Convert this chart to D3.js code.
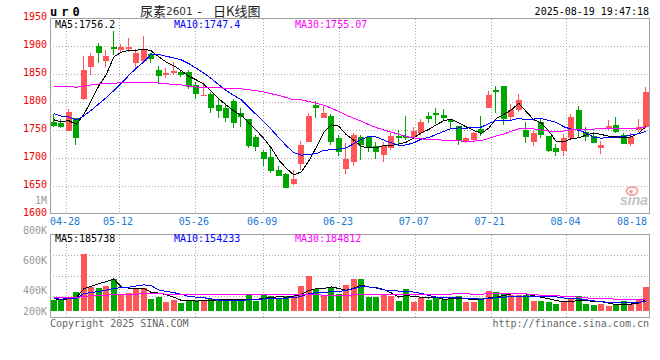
<!DOCTYPE html>
<html><head><meta charset="utf-8">
<script src="https://cdn.jsdelivr.net/npm/d3@7"></script>
<style>html,body{margin:0;padding:0;background:#fff}svg{display:block}</style>
</head><body>
<svg id="chart" width="660" height="360"></svg>
<script>
// ---------------- data ----------------
const dates = ["04-24","04-25","04-28","04-29","04-30","05-06","05-07","05-08","05-09","05-12",
"05-13","05-14","05-15","05-16","05-19","05-20","05-21","05-22","05-23","05-26",
"05-27","05-28","05-29","05-30","06-03","06-04","06-05","06-06","06-09","06-10",
"06-11","06-12","06-13","06-16","06-17","06-18","06-19","06-20","06-23","06-24",
"06-25","06-26","06-27","06-30","07-01","07-02","07-03","07-04","07-07","07-08",
"07-09","07-10","07-11","07-14","07-15","07-16","07-17","07-18","07-21","07-22",
"07-23","07-24","07-25","07-28","07-29","07-30","07-31","08-01","08-04","08-05",
"08-06","08-07","08-08","08-11","08-12","08-13","08-14","08-15","08-18","08-19"];
const open = [1765,1762,1749,1771,1805,1862,1900,1874,1899,1892,
1894,1870,1874,1886,1858,1849,1852,1854,1853,1830,
1812,1814,1795,1789,1801,1780,1770,1738,1711,1701,
1679,1671,1654,1689,1729,1795,1772,1775,1735,1680,
1692,1738,1737,1721,1705,1717,1740,1740,1737,1744,
1775,1781,1777,1767,1757,1731,1732,1751,1790,1821,
1829,1774,1786,1750,1729,1765,1739,1718,1713,1735,
1786,1747,1739,1718,1753,1759,1741,1725,1750,1756];
const high = [1779,1769,1787,1772,1883,1888,1906,1893,1927,1904,
1914,1894,1917,1888,1864,1860,1871,1858,1857,1836,
1836,1817,1805,1798,1805,1789,1770,1741,1714,1717,
1685,1674,1679,1731,1781,1801,1793,1778,1741,1726,
1744,1741,1739,1729,1729,1745,1750,1775,1756,1769,
1783,1790,1787,1769,1757,1738,1747,1775,1820,1829,
1829,1796,1814,1765,1750,1771,1739,1725,1743,1779,
1793,1755,1747,1730,1767,1774,1745,1744,1769,1827];
const low = [1755,1754,1749,1724,1804,1849,1869,1863,1884,1887,
1890,1860,1872,1870,1834,1842,1848,1845,1824,1805,
1811,1781,1772,1765,1754,1756,1718,1713,1685,1673,
1667,1646,1652,1679,1729,1772,1772,1723,1703,1671,
1685,1696,1711,1699,1693,1714,1721,1733,1734,1741,
1763,1761,1766,1751,1724,1726,1731,1739,1790,1781,
1759,1768,1783,1727,1721,1735,1710,1704,1704,1733,
1735,1731,1727,1707,1750,1744,1725,1721,1747,1753];
const close = [1757,1756,1782,1735,1857,1882,1887,1882,1894,1899,
1899,1888,1893,1877,1847,1851,1856,1849,1827,1815,
1813,1790,1784,1771,1762,1774,1721,1720,1698,1677,
1667,1646,1662,1723,1775,1789,1780,1729,1711,1699,
1741,1723,1717,1711,1721,1739,1736,1735,1749,1765,
1770,1777,1772,1764,1730,1735,1745,1745,1812,1817,
1769,1786,1804,1738,1745,1741,1713,1710,1735,1773,
1750,1737,1727,1723,1757,1747,1725,1737,1756,1818];
const volume = [333000,331000,351000,385000,638000,422000,411000,427000,471000,375000,
378000,415000,416000,338000,351000,320000,335000,311000,331000,333000,
334000,340000,338000,335000,327000,327000,371000,327000,371000,360000,
345000,360000,362000,425000,493000,405000,362000,418000,373000,433000,
471000,471000,351000,351000,371000,362000,327000,405000,320000,345000,
335000,355000,333000,340000,362000,320000,320000,345000,391000,385000,
378000,367000,367000,367000,327000,327000,320000,309000,318000,345000,
358000,309000,298000,305000,295000,300000,327000,305000,331000,418000];
// closes / volumes of the 29 sessions before the first visible one (for the moving averages)
const closeHistory = [1765,1772,1785,1800,1812,1838,1860,1872,1876,1880,1882,1878,
1890,1895,1888,1884,1880,1878,1877,1830,1805,1795,1790,1782,1782,1775,1770,1768,1771];
const volumeHistory = [352000,348000,360000,355000,346000,358000,362000,350000,344000,357000,
365000,349000,353000,347000,360000,351000,356000,343000,354000,350000,
338000,342000,336000,345000,340000,344000,338000,342000,346000];
const maPeriods = [5,10,30];
const priceTicks = [1600,1650,1700,1750,1800,1850,1900,1950];
const volumeTicks = [200000,400000,600000,800000,1000000];
const volumeTickLabels = ["200K","400K","600K","800K","1M"];
const dateTicks = ["04-28","05-12","05-26","06-09","06-23","07-07","07-21","08-04","08-18"];
const priceMAText = ["MA5:1756.2","MA10:1747.4","MA30:1755.07"];
const volumeMAText = ["MA5:185738","MA10:154233","MA30:184812"];
const symbol = "ur0";
const titleParts = ["尿素","2601","-","日K线图"];
const timestamp = "2025-08-19 19:47:18";
const footerLeft = "Copyright 2025 SINA.COM";
const footerRight = "http://finance.sina.com.cn";

// ---------------- layout / style ----------------
const L = 50, R = 650;
const priceTop = 18, priceBottom = 214;
const volTop = 234, volBottom = 317, volBase = 311;
const UP = "#ff5757", DOWN = "#00a600";
const maColors = ["#000000","#0000ff","#ff00ff"];
const mono = "'DejaVu Sans Mono', monospace";
const gridColor = "#aaaaaa", borderColor = "#a0a0a0";

const svg = d3.select("#chart");
const n = dates.length;

const x = d3.scaleBand().domain(dates).range([L, R]).paddingInner(0.2).paddingOuter(0.1);
const xGrid = d3.scaleLinear().domain([0, n - 1]).range([50.8, 649.9]);
const yP = d3.scaleLinear().domain([1600, 1950]).range([priceBottom, priceTop]);
const yV = d3.scaleLinear().domain([0, 1000000]).range([350, 200]);

const cx = d => Math.round(x(d)) + 2.5;
const isUp = i => close[i] >= open[i];

function movingAvg(hist, vals, p) {
  const all = hist.concat(vals);
  return vals.map((_, i) => {
    const end = hist.length + i;
    return d3.mean(all.slice(end - p + 1, end + 1));
  });
}

// ---------------- grids ----------------
const g = svg.append("g");
g.selectAll(".hp").data(priceTicks.filter(t => t > 1600 && t < 1950)).enter().append("line")
  .attr("x1", L).attr("x2", R)
  .attr("y1", d => Math.round(yP(d)) + 0.5).attr("y2", d => Math.round(yP(d)) + 0.5)
  .attr("stroke", gridColor).attr("stroke-dasharray", "1,2");
g.selectAll(".hv").data([1, 2, 3]).enter().append("line")
  .attr("x1", L).attr("x2", R)
  .attr("y1", d => Math.round(volTop + (volBottom - volTop) * d / 4) + 0.5)
  .attr("y2", d => Math.round(volTop + (volBottom - volTop) * d / 4) + 0.5)
  .attr("stroke", gridColor).attr("stroke-dasharray", "1,2");
const gridDates = dateTicks.filter(d => xGrid(dates.indexOf(d)) < R - 10);
[[priceTop + 1, priceBottom - 1], [volTop + 1, volBottom]].forEach(([a, b]) => {
  g.selectAll(null).data(gridDates).enter().append("line")
    .attr("x1", d => Math.round(xGrid(dates.indexOf(d))) + 0.5)
    .attr("x2", d => Math.round(xGrid(dates.indexOf(d))) + 0.5)
    .attr("y1", a).attr("y2", b)
    .attr("stroke", gridColor).attr("stroke-dasharray", "1,2");
});

// ---------------- candles ----------------
const cg = svg.append("g");
dates.forEach((d, i) => {
  const col = isUp(i) ? UP : DOWN;
  cg.append("line")
    .attr("x1", cx(d)).attr("x2", cx(d))
    .attr("y1", Math.round(yP(high[i]))).attr("y2", Math.round(yP(low[i])))
    .attr("stroke", col).attr("stroke-width", 1);
  const top = Math.round(yP(Math.max(open[i], close[i])));
  const bot = Math.round(yP(Math.min(open[i], close[i])));
  cg.append("rect")
    .attr("x", Math.round(x(d))).attr("width", Math.round(x.bandwidth()))
    .attr("y", top).attr("height", Math.max(1, bot - top))
    .attr("fill", col);
});

// price MAs
svg.append("clipPath").attr("id", "cp").append("rect")
  .attr("x", L).attr("y", priceTop).attr("width", R - L).attr("height", priceBottom - priceTop);
maPeriods.forEach((p, j) => {
  const vals = movingAvg(closeHistory, close, p);
  svg.append("path").datum(vals)
    .attr("clip-path", "url(#cp)")
    .attr("fill", "none").attr("stroke", maColors[j]).attr("stroke-width", 1)
    .attr("shape-rendering", "crispEdges")
    .attr("d", d3.line().x((v, i) => x(dates[i]) + x.bandwidth() / 2).y(v => yP(v)));
});

// ---------------- volume ----------------
const vg = svg.append("g");
vg.selectAll("rect").data(dates).enter().append("rect")
  .attr("x", d => Math.round(x(d))).attr("width", Math.round(x.bandwidth()))
  .attr("y", (d, i) => Math.round(yV(volume[i])))
  .attr("height", (d, i) => volBase - Math.round(yV(volume[i])))
  .attr("fill", (d, i) => isUp(i) ? UP : DOWN);
maPeriods.forEach((p, j) => {
  const vals = movingAvg(volumeHistory, volume, p);
  svg.append("path").datum(vals)
    .attr("fill", "none").attr("stroke", maColors[j]).attr("stroke-width", 1)
    .attr("shape-rendering", "crispEdges")
    .attr("d", d3.line().x((v, i) => x(dates[i]) + x.bandwidth() / 2).y(v => yV(v)));
});

// ---------------- borders ----------------
svg.append("rect").attr("x", L + 0.5).attr("y", priceTop + 0.5)
  .attr("width", R - L - 1).attr("height", priceBottom - priceTop - 1)
  .attr("fill", "none").attr("stroke", borderColor);
svg.append("rect").attr("x", L + 0.5).attr("y", volTop + 0.5)
  .attr("width", R - L - 1).attr("height", volBottom - volTop)
  .attr("fill", "none").attr("stroke", borderColor);

// ---------------- texts ----------------
const txt = (s, xx, yy, opts = {}) => svg.append("text")
  .attr("x", xx).attr("y", yy).text(s)
  .attr("font-family", opts.font || mono).attr("font-size", opts.size || 10)
  .attr("fill", opts.fill || "#000").attr("text-anchor", opts.anchor || "start")
  .attr("dominant-baseline", "central")
  .attr("font-weight", opts.weight || "normal")
  .attr("letter-spacing", opts.ls || 0);

priceTicks.forEach(t => txt(String(t), 47, yP(t) - 1.5, { anchor: "end", fill: "#ee0000" }));
volumeTicks.forEach((t, j) => txt(volumeTickLabels[j], 47, Math.min(yV(t), volBase), { anchor: "end", fill: "#999999" }));
dateTicks.forEach(d => {
  let c = xGrid(dates.indexOf(d)) - 1;
  c = Math.min(c, 647 - 15);
  txt(d, c, 221, { anchor: "middle", fill: "#1a7ad4" });
});

// header
const cjk = "'Noto Sans CJK SC', sans-serif";
txt(symbol, 50, 12, { size: 12, weight: "bold", ls: 4 });
txt(titleParts[0], 140, 10.5, { font: cjk, size: 13, fill: "#222" });
txt(titleParts[1], 166, 11, { font: "'DejaVu Sans', sans-serif", size: 10.5, fill: "#333" });
txt(titleParts[2], 199.5, 10.5, { font: cjk, size: 13, fill: "#222", anchor: "middle" });
txt(titleParts[3], 213, 10.5, { font: cjk, size: 13, fill: "#222" });
txt(timestamp, 649, 11.5, { anchor: "end" });
const maX = [55, 174, 295];
priceMAText.forEach((s, j) => txt(s, maX[j], 24, { fill: maColors[j] }));
volumeMAText.forEach((s, j) => txt(s, maX[j], 238.5, { fill: maColors[j] }));

// footer
txt(footerLeft, 50, 323.5, { fill: "#666" });
txt(footerRight, 649, 323.5, { fill: "#666", anchor: "end" });

// sina watermark
svg.append("ellipse").attr("cx", 632).attr("cy", 191).attr("rx", 5.5).attr("ry", 4)
  .attr("fill", "none").attr("stroke", "#f2a6a6").attr("stroke-width", 2);
svg.append("circle").attr("cx", 631).attr("cy", 191.5).attr("r", 1.8).attr("fill", "#e99");
svg.append("text").attr("x", 620).attr("y", 205).text("sina")
  .attr("font-family", "'Liberation Sans', sans-serif").attr("font-size", 14)
  .attr("font-style", "italic").attr("font-weight", "bold").attr("fill", "#c4c4c4");
</script>
</body></html>
